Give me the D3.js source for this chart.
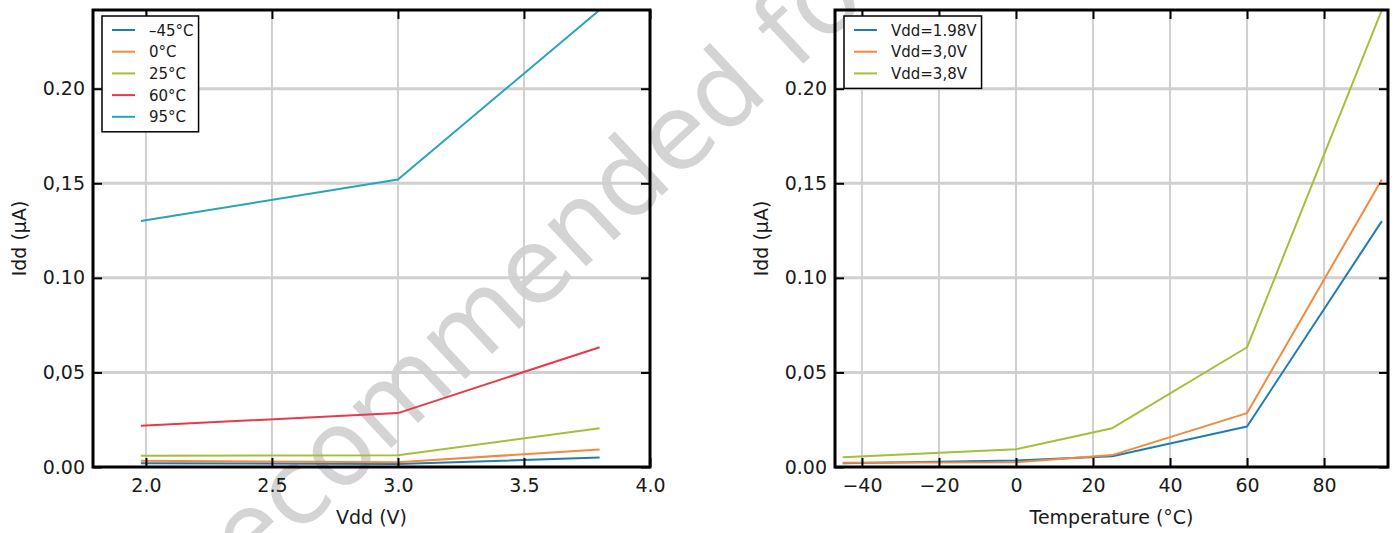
<!DOCTYPE html>
<html>
<head>
<meta charset="utf-8">
<script src="https://cdn.jsdelivr.net/npm/d3@7/dist/d3.min.js"></script>
<style>
  html, body { margin: 0; padding: 0; background: #fff; }
  svg { display: block; font-family: "DejaVu Sans", sans-serif; }
</style>
</head>
<body>
<svg id="chart" width="1400" height="533"></svg>
<script>
// ---------- DATA ----------
// Left panel: Idd vs Vdd, one series per temperature
const vddValues = [1.98, 3.0, 3.8];
const tempLabels = ["\u201345\u00b0C", "0\u00b0C", "25\u00b0C", "60\u00b0C", "95\u00b0C"];
const iddTm45 = [0.0020, 0.0016, 0.0050];
const iddT0   = [0.0033, 0.0025, 0.0093];
const iddT25  = [0.0059, 0.0062, 0.0205];
const iddT60  = [0.0218, 0.0285, 0.0633];
const iddT95  = [0.1300, 0.1520, 0.2416];

// Right panel: Idd vs temperature, one series per Vdd
const tempValues = [-45, 0, 25, 60, 95];
const vddLabels = ["Vdd=1.98V", "Vdd=3,0V", "Vdd=3,8V"];
const iddV198 = [0.0020, 0.0035, 0.0057, 0.0214, 0.1300];
const iddV30  = [0.0022, 0.0025, 0.0063, 0.0285, 0.1520];
const iddV38  = [0.0051, 0.0094, 0.0205, 0.0633, 0.2416];

// Ticks
const yTicks = [0, 0.05, 0.10, 0.15, 0.20];
const yTickLabels = ["0.00", "0,05", "0.10", "0,15", "0.20"];
const vddTicks = [2.0, 2.5, 3.0, 3.5, 4.0];
const vddTickLabels = ["2.0", "2.5", "3.0", "3.5", "4.0"];
const tempTicks = [-40, -20, 0, 20, 40, 60, 80];
const tempTickLabels = ["\u221240", "\u221220", "0", "20", "40", "60", "80"];

const seriesColors = ["#1f7db3", "#f28a3c", "#a4bf38", "#e8394a", "#27a4b9"];

// ---------- DRAW ----------
const svg = d3.select("#chart");
svg.append("rect").attr("width", 1400).attr("height", 533).attr("fill", "#fff");

// watermark (behind everything)
svg.append("text")
  .attr("transform", "translate(62,755) rotate(-43)")
  .attr("font-size", 104)
  .attr("fill", "#d4d4d4")
  .text("Not recommended for new designs");

function panel(cfg) {
  const {left, right, top, bottom} = cfg.box;
  const x = d3.scaleLinear().domain(cfg.xDomain).range([left, right]);
  const y = d3.scaleLinear().domain([0, 0.2416]).range([bottom, top]);
  const g = svg.append("g");

  // grid
  g.append("g").selectAll("line").data(cfg.xTicks.filter(d => x(d) > left + 2 && x(d) < right - 2))
    .join("line")
    .attr("x1", d => x(d)).attr("x2", d => x(d))
    .attr("y1", top).attr("y2", bottom)
    .attr("stroke", "#d0d0d0").attr("stroke-width", 2);
  g.append("g").selectAll("line").data(yTicks.filter(d => d > 0))
    .join("line")
    .attr("x1", left).attr("x2", right)
    .attr("y1", d => y(d)).attr("y2", d => y(d))
    .attr("stroke", "#d0d0d0").attr("stroke-width", 3);

  // clip for lines
  const clipId = "clip" + cfg.id;
  svg.append("clipPath").attr("id", clipId)
    .append("rect").attr("x", left).attr("y", top).attr("width", right - left).attr("height", bottom - top);

  const line = d3.line().x((d, i) => x(cfg.xValues[i])).y(d => y(d));
  g.append("g").attr("clip-path", `url(#${clipId})`)
    .selectAll("path").data(cfg.series).join("path")
    .attr("d", d => line(d))
    .attr("fill", "none")
    .attr("stroke", (d, i) => seriesColors[i])
    .attr("stroke-width", 2)
    .attr("stroke-linejoin", "round");

  // axes with inward ticks
  const tickStyle = sel => {
    sel.select(".domain").remove();
    sel.selectAll(".tick line").attr("stroke", "#000").attr("stroke-width", 2);
    sel.selectAll(".tick text").attr("fill", "#1a1a1a").attr("font-size", 19)
      .attr("font-family", "DejaVu Sans, sans-serif");
  };
  g.append("g").attr("transform", `translate(0,${bottom})`)
    .call(d3.axisBottom(x).tickValues(cfg.xTicks).tickFormat((d, i) => cfg.xTickLabels[i]).tickSize(-9).tickPadding(12))
    .call(tickStyle);
  g.append("g").attr("transform", `translate(0,${top})`)
    .call(d3.axisTop(x).tickValues(cfg.xTicks).tickFormat("").tickSize(-9))
    .call(tickStyle);
  g.append("g").attr("transform", `translate(${left},0)`)
    .call(d3.axisLeft(y).tickValues(yTicks).tickFormat((d, i) => yTickLabels[i]).tickSize(-9).tickPadding(8))
    .call(tickStyle);
  g.append("g").attr("transform", `translate(${right},0)`)
    .call(d3.axisRight(y).tickValues(yTicks).tickFormat("").tickSize(-9))
    .call(tickStyle);

  // frame
  g.append("rect").attr("x", left).attr("y", top).attr("width", right - left).attr("height", bottom - top)
    .attr("fill", "none").attr("stroke", "#000").attr("stroke-width", 3);

  // axis titles
  g.append("text").attr("x", (left + right) / 2).attr("y", 524)
    .attr("text-anchor", "middle").attr("font-size", 19).attr("fill", "#1a1a1a")
    .text(cfg.xTitle);
  g.append("text")
    .attr("transform", `translate(${left - 67},${(top + bottom) / 2}) rotate(-90)`)
    .attr("text-anchor", "middle").attr("font-size", 19).attr("fill", "#1a1a1a")
    .text("Idd (\u00b5A)");

  // legend
  const lg = g.append("g");
  const lx = left + 9, ly = top + 6;
  const box = lg.append("rect").attr("x", lx).attr("y", ly)
    .attr("fill", "#fff").attr("stroke", "#000").attr("stroke-width", 1.5);
  const items = lg.selectAll("g.item").data(cfg.labels).join("g").attr("class", "item")
    .attr("transform", (d, i) => `translate(${lx},${ly + 14 + i * 21.7})`);
  items.append("line").attr("x1", 10).attr("x2", 33).attr("y1", 0).attr("y2", 0)
    .attr("stroke", (d, i) => seriesColors[i]).attr("stroke-width", 2);
  items.append("text").attr("x", 47).attr("y", 5.5).attr("font-size", 15).attr("fill", "#1a1a1a")
    .text(d => d);
  let maxW = 0;
  items.selectAll("text").each(function () { maxW = Math.max(maxW, this.getComputedTextLength()); });
  box.attr("width", 47 + maxW + 5).attr("height", 14 + (cfg.labels.length - 1) * 21.7 + 15);
}

panel({
  id: "L",
  box: {left: 93, right: 650, top: 10, bottom: 467},
  xDomain: [1.79, 4.0],
  xValues: vddValues,
  series: [iddTm45, iddT0, iddT25, iddT60, iddT95],
  labels: tempLabels,
  xTicks: vddTicks, xTickLabels: vddTickLabels,
  xTitle: "Vdd (V)"
});

panel({
  id: "R",
  box: {left: 835, right: 1388, top: 10, bottom: 467},
  xDomain: [-47, 96.6],
  xValues: tempValues,
  series: [iddV198, iddV30, iddV38],
  labels: vddLabels,
  xTicks: tempTicks, xTickLabels: tempTickLabels,
  xTitle: "Temperature (\u00b0C)"
});
</script>
</body>
</html>
